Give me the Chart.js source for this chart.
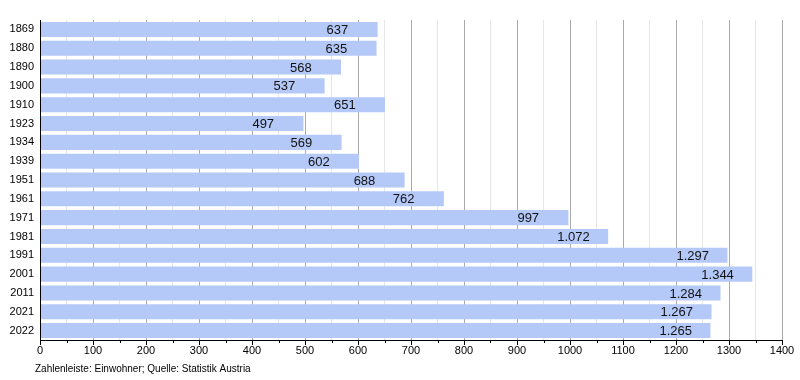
<!DOCTYPE html>
<html>
<head>
<meta charset="utf-8">
<script src="https://cdn.jsdelivr.net/npm/chart.js@4/dist/chart.umd.min.js"></script>
<style>
  html, body { margin: 0; padding: 0; background: #fff; }
  #wrap { width: 800px; height: 380px; }
</style>
</head>
<body>
<div id="wrap"><canvas id="chart" width="800" height="380"></canvas></div>
<script>
var years = ['1869', '1880', '1890', '1900', '1910', '1923', '1934', '1939', '1951', '1961',
             '1971', '1981', '1991', '2001', '2011', '2021', '2022'];
var population = [637, 635, 568, 537, 651, 497, 569, 602, 688, 762,
                  997, 1072, 1297, 1344, 1284, 1267, 1265];
var footerText = 'Zahlenleiste: Einwohner; Quelle: Statistik Austria';

var fontName = '"Liberation Sans", Arial, sans-serif';

// deutsche Tausenderpunkte
function fmt(v) {
    return v.toString().replace(/\B(?=(\d{3})+(?!\d))/g, '.');
}

var extras = {
    id: 'extras',
    afterDatasetsDraw: function(chart) {
        var ctx = chart.ctx, meta = chart.getDatasetMeta(0);
        ctx.save();
        ctx.font = '13px ' + fontName;
        ctx.fillStyle = '#111';
        ctx.textAlign = 'left';
        ctx.textBaseline = 'middle';
        meta.data.forEach(function(bar, i) {
            ctx.fillText(fmt(population[i]), bar.x - 51, bar.y + 1);
        });
        ctx.restore();
    },
    afterDraw: function(chart) {
        var ctx = chart.ctx, xs = chart.scales.x, area = chart.chartArea;
        ctx.save();
        // Achsen
        ctx.strokeStyle = '#000';
        ctx.lineWidth = 1;
        ctx.beginPath();
        ctx.moveTo(area.left + 0.5, area.top);
        ctx.lineTo(area.left + 0.5, area.bottom + 0.5);
        ctx.lineTo(area.right, area.bottom + 0.5);
        for (var v = 0; v <= 1400; v += 50) {
            var px = Math.round(xs.getPixelForValue(v)) + 0.5;
            ctx.moveTo(px, area.bottom);
            ctx.lineTo(px, area.bottom + (v % 100 == 0 ? 5 : 3));
        }
        ctx.stroke();
        ctx.font = '10px ' + fontName;
        ctx.fillStyle = '#000';
        ctx.textBaseline = 'middle';
        ctx.fillText(footerText, 35, 369);
        ctx.restore();
    }
};

new Chart(document.getElementById('chart'), {
    type: 'bar',
    data: {
        labels: years,
        datasets: [{
            data: population,
            backgroundColor: 'rgb(180,201,248)',
            borderWidth: 0,
            barPercentage: 0.8,
            categoryPercentage: 1.0
        }]
    },
    options: {
        indexAxis: 'y',
        responsive: false,
        animation: false,
        layout: { padding: { top: 20, right: 18, bottom: 12, left: 0 } },
        plugins: { legend: { display: false }, tooltip: { enabled: false } },
        scales: {
            x: {
                min: 0,
                max: 1400,
                ticks: {
                    stepSize: 50,
                    autoSkip: false,
                    maxRotation: 0,
                    padding: 4,
                    color: '#000',
                    font: { family: fontName, size: 11 },
                    callback: function(v) { return v % 100 == 0 ? v : ''; }
                },
                grid: {
                    drawTicks: false,
                    color: function(c) {
                        if (c.tick.value == 0) return 'rgba(0,0,0,0)';
                        return c.tick.value % 100 == 0 ? '#aaaaaa' : '#e6e6e6';
                    }
                },
                border: { display: false },
                afterFit: function(s) { s.height = 28; }
            },
            y: {
                ticks: {
                    color: '#000',
                    padding: 6,
                    font: { family: fontName, size: 11 }
                },
                grid: { display: false, drawTicks: false },
                border: { display: false },
                afterFit: function(s) { s.width = 40; }
            }
        }
    },
    plugins: [extras]
});
</script>
</body>
</html>
